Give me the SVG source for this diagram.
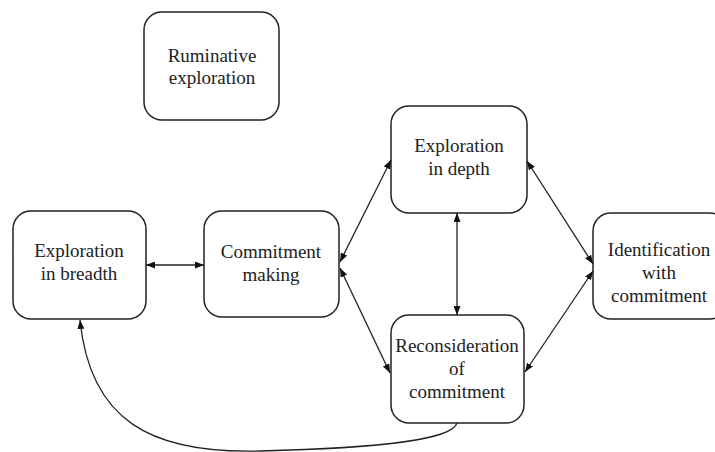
<svg xmlns="http://www.w3.org/2000/svg" width="715" height="452" viewBox="0 0 715 452">
  <style>
    .box { fill: #ffffff; stroke: #222222; stroke-width: 1.5; }
    .lbl { font-family: "Liberation Serif", "Times New Roman", serif; font-size: 19px; fill: #222222; text-anchor: middle; }
    .link { fill: none; stroke: #222222; stroke-width: 1.3; }
  </style>
  <defs>
    <marker id="arrow" viewBox="0 0 9 7" refX="9" refY="3.5" markerWidth="9" markerHeight="7" markerUnits="userSpaceOnUse" orient="auto-start-reverse">
      <path d="M0,0 L9,3.5 L0,7 z" fill="#111111"/>
    </marker>
  </defs>
  <rect width="715" height="452" fill="#ffffff"/>

  <g id="ruminative-exploration">
    <rect class="box" x="144" y="12" width="135" height="108" rx="18" ry="18"/>
    <text class="lbl" x="212" y="62">Ruminative</text>
    <text class="lbl" x="212" y="84">exploration</text>
  </g>

  <g id="exploration-in-breadth">
    <rect class="box" x="13" y="211" width="133" height="108" rx="18" ry="18"/>
    <text class="lbl" x="79" y="257">Exploration</text>
    <text class="lbl" x="79" y="280">in breadth</text>
  </g>

  <g id="commitment-making">
    <rect class="box" x="204" y="211" width="135" height="106" rx="18" ry="18"/>
    <text class="lbl" x="271" y="258">Commitment</text>
    <text class="lbl" x="271" y="281">making</text>
  </g>

  <g id="exploration-in-depth">
    <rect class="box" x="391" y="106" width="136" height="107" rx="18" ry="18"/>
    <text class="lbl" x="459" y="152">Exploration</text>
    <text class="lbl" x="459" y="175">in depth</text>
  </g>

  <g id="reconsideration-of-commitment">
    <rect class="box" x="391" y="315" width="133" height="108" rx="18" ry="18"/>
    <text class="lbl" x="457" y="352">Reconsideration</text>
    <text class="lbl" x="457" y="375">of</text>
    <text class="lbl" x="457" y="398">commitment</text>
  </g>

  <g id="identification-with-commitment">
    <rect class="box" x="593" y="213" width="135" height="106" rx="18" ry="18"/>
    <text class="lbl" x="659" y="256">Identification</text>
    <text class="lbl" x="659" y="279">with</text>
    <text class="lbl" x="659" y="302">commitment</text>
  </g>

  <g id="connectors">
    <line class="link" x1="146" y1="265" x2="204" y2="265" marker-start="url(#arrow)" marker-end="url(#arrow)"/>
    <line class="link" x1="340" y1="262" x2="391" y2="160" marker-start="url(#arrow)" marker-end="url(#arrow)"/>
    <line class="link" x1="340" y1="268" x2="390" y2="373" marker-start="url(#arrow)" marker-end="url(#arrow)"/>
    <line class="link" x1="457" y1="213" x2="457" y2="315" marker-start="url(#arrow)" marker-end="url(#arrow)"/>
    <line class="link" x1="527" y1="161" x2="593" y2="264" marker-start="url(#arrow)" marker-end="url(#arrow)"/>
    <line class="link" x1="593" y1="271" x2="525" y2="372" marker-start="url(#arrow)" marker-end="url(#arrow)"/>
    <path class="link" d="M457,423 C452,440 380,448 260,451 C150,454 90,420 80,320" marker-end="url(#arrow)"/>
  </g>
</svg>
